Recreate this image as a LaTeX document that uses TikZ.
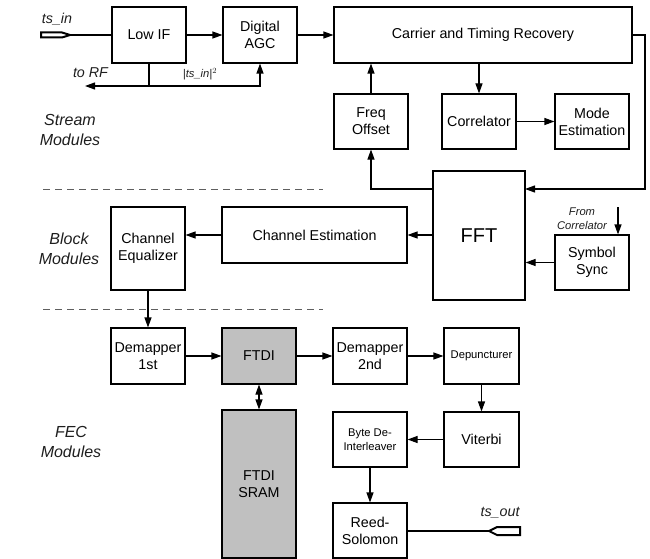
\documentclass[tikz,border=0pt]{standalone}
\usepackage{fontspec}
\setmainfont{Liberation Sans}
\usetikzlibrary{arrows.meta}
\definecolor{boxgray}{RGB}{192,192,192}
\definecolor{dashgray}{RGB}{95,95,95}
\definecolor{labelc}{RGB}{30,30,30}
\begin{document}
\begin{tikzpicture}[x=1pt,y=-1pt,
  box/.style={draw, line width=1.1pt, inner sep=0pt, align=center,
    font=\fontsize{14.3}{17}\selectfont, minimum width=74pt, minimum height=56pt},
  smallbox/.style={box, font=\fontsize{11.2}{14}\selectfont},
  graybox/.style={box, fill=boxgray},
  conn/.style={line width=1.1pt},
  arr/.style={conn, -{Triangle[length=10pt,width=7pt]}},
  darr/.style={conn, {Triangle[length=10pt,width=7pt]}-{Triangle[length=10pt,width=7pt]}},
  sep/.style={dashgray, line width=1pt, dash pattern=on 7pt off 5pt},
  port/.style={line width=2pt, fill=white, line join=miter},
  lbl/.style={font=\fontsize{14.3}{17}\selectfont\itshape, text=labelc, inner sep=0pt},
  slbl/.style={font=\fontsize{11.2}{14}\selectfont\itshape, text=labelc, inner sep=0pt, align=center},
  mod/.style={font=\fontsize{16}{20}\selectfont\itshape, text=labelc, inner sep=0pt, align=center}
]
\useasboundingbox (0,0) rectangle (650,559);

% separators
\draw[sep] (43,189) -- (323,189);
\draw[sep] (43,309) -- (323,309);

% module labels
\node[mod] (stream) at (70,130) {Stream\\Modules};
\node[mod] (block) at (69,248.5) {Block\\Modules};
\node[mod] (fec) at (71,442) {FEC\\Modules};

% stream modules
\node[box] (lowif) at (149,35) {Low IF};
\node[box] (agc) at (260,35) {Digital\\AGC};
\node[box, minimum width=298pt] (ctr) at (483,35) {Carrier and Timing Recovery};
\node[box, minimum height=55pt] (freq) at (371,121.5) {Freq\\Offset};
\node[box, minimum height=55pt] (corr) at (479,121.5) {Correlator};
\node[box, minimum height=55pt] (mode) at (592,121.5) {Mode\\Estimation};

% block modules
\node[box, minimum width=92pt, minimum height=129pt, font=\fontsize{20}{24}\selectfont] (fft) at (479,235.5) {FFT};
\node[box, minimum width=185pt] (chest) at (314.5,235) {Channel Estimation};
\node[box, minimum height=83pt] (cheq) at (148,248.5) {Channel\\Equalizer};
\node[box, minimum height=55pt] (sym) at (592,262.5) {Symbol\\Sync};

% FEC modules
\node[box] (dem1) at (148,356) {Demapper\\1st};
\node[graybox] (ftdi) at (259,356) {FTDI};
\node[box] (dem2) at (370,356) {Demapper\\2nd};
\node[smallbox, minimum width=75pt] (dep) at (481.5,356) {Depuncturer};
\node[box, minimum width=75pt, minimum height=55pt] (vit) at (481.5,439.5) {Viterbi};
\node[smallbox, minimum height=55pt] (byte) at (370,439.5) {Byte De-\\Interleaver};
\node[box, minimum height=55pt] (rs) at (370,530.5) {Reed-\\Solomon};
\node[graybox, minimum height=148pt] (sram) at (259,484) {FTDI\\SRAM};

% ports
\draw[port] (41,32.5) -- (62,32.5) -- (70,35) -- (62,37.5) -- (41,37.5) -- cycle;
\coordinate (tsin) at (70,35);
\draw[port] (520,527) -- (497,527) -- (489,531) -- (497,535) -- (520,535) -- cycle;
\coordinate (tsout) at (489,531);
\node[lbl] (tsinlbl) at (57,19) {ts\_in};
\node[lbl] (tsoutlbl) at (500,513) {ts\_out};

% stream connectors
\draw[conn] (tsin) -- (lowif.west);
\draw[arr] (lowif.east) -- (agc.west);
\draw[arr] (agc.east) -- (ctr.west);
\coordinate (fb) at (149,86);
\coordinate (torf) at (85,86);
\draw[conn] (lowif.south) -- (fb);
\draw[arr] (fb) -- (torf);
\draw[arr] (fb) -| (agc.south);
\node[lbl] (torflbl) at (90.5,73) {to RF};
\node[slbl] (sqlbl) at (200,74.5) {|ts\_in|$^{\scriptstyle 2}$};

\coordinate (rr) at (645,35);
\coordinate (fftin) at (525,189);
\coordinate (fftout) at (433,189);
\draw[arr] (ctr.east) -- (rr) |- (fftin);
\draw[arr] (fftout) -| (freq.south);
\draw[arr] (freq.north) -- (freq.north |- ctr.south);
\draw[arr] (ctr.south -| corr.north) -- (corr.north);
\draw[arr] (corr.east) -- (mode.west);

% block connectors
\draw[arr] (fft.west |- chest.east) -- (chest.east);
\draw[arr] (chest.west) -- (chest.west -| cheq.east);
\draw[arr] (sym.west) -- (sym.west -| fft.east);
\coordinate (fromcorr) at (618,207);
\draw[arr] (fromcorr) -- (fromcorr |- sym.north);
\node[slbl] (fromlbl) at (582,219) {From\\Correlator};

% FEC connectors
\draw[arr] (cheq.south) -- (dem1.north);
\draw[arr] (dem1.east) -- (ftdi.west);
\draw[arr] (ftdi.east) -- (dem2.west);
\draw[arr] (dem2.east) -- (dep.west);
\draw[darr] (ftdi.south) -- (sram.north);
\draw[arr] (dep.south) -- (vit.north);
\draw[arr] (vit.west) -- (byte.east);
\draw[arr] (byte.south) -- (rs.north);
\draw[conn] (rs.east |- tsout) -- (tsout);
\end{tikzpicture}
\end{document}
